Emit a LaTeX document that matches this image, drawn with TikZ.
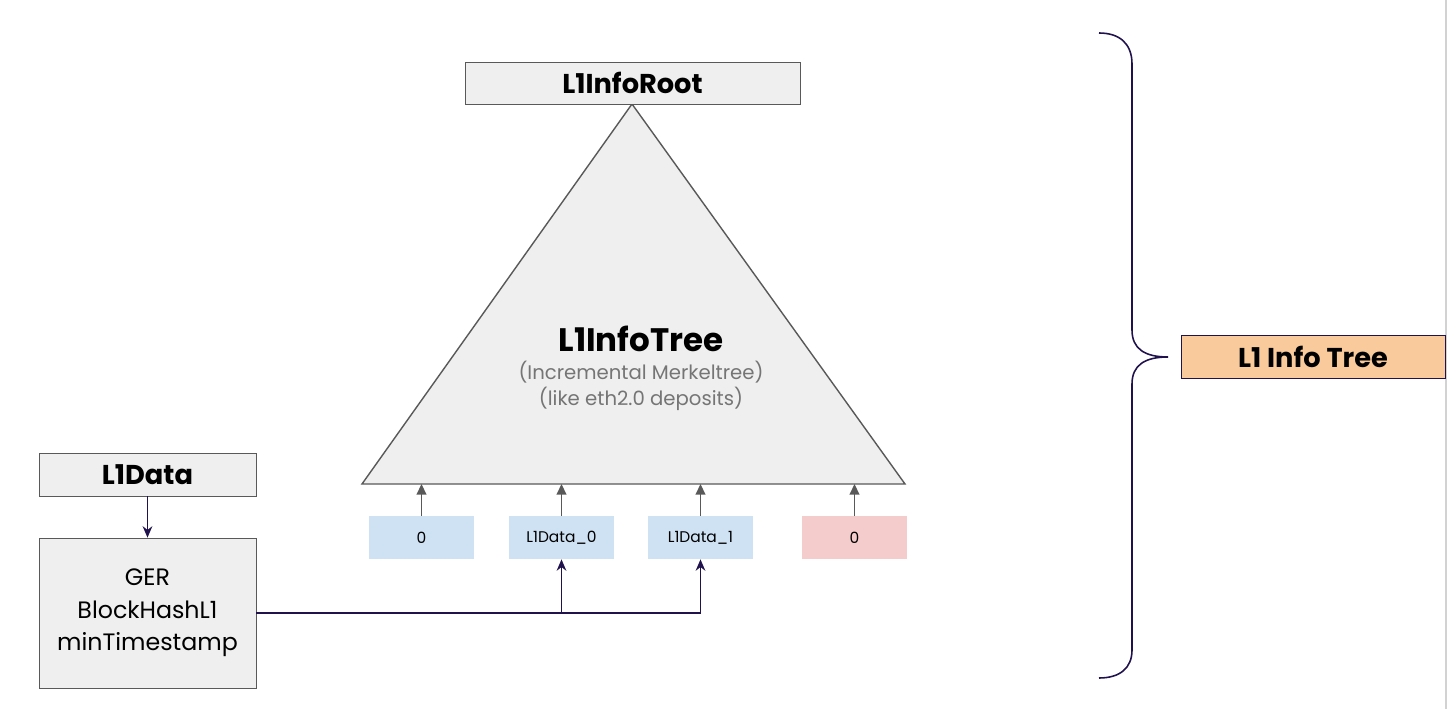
\documentclass[tikz,border=0pt]{standalone}
\usepackage{fontspec}
\setmainfont{Poppins}
\usetikzlibrary{arrows.meta,positioning}

\definecolor{boxgray}{HTML}{EFEFEF}
\definecolor{linegray}{HTML}{595959}
\definecolor{navy}{HTML}{20124D}
\definecolor{leafblue}{HTML}{CFE2F3}
\definecolor{leafred}{HTML}{F4CCCC}
\definecolor{peach}{HTML}{F9CB9C}
\definecolor{subgray}{HTML}{757575}

\begin{document}
\begin{tikzpicture}[x=0.02cm, y=-0.02cm,
        graybox/.style={rectangle, draw=linegray, fill=boxgray, inner sep=0pt, font=\bfseries\fontsize{15.5}{18}\selectfont},
        leaf/.style={rectangle, inner sep=0pt, minimum width=2.1cm, minimum height=0.86cm, font=\fontsize{8.8}{10}\selectfont},
        uparrow/.style={-{Triangle[length=6pt, width=5.5pt]}, draw=linegray, fill=linegray, line width=0.9pt},
        feed/.style={-{Stealth[length=6.5pt, width=5.5pt]}, draw=navy, line width=0.9pt}]
        \useasboundingbox (0, 0) rectangle (1447, 709);
        \draw[gray!35, line width=0.6pt] (1446, 0) -- (1446, 709);

        % the tree
        \filldraw[fill=boxgray, draw=linegray, line width=0.8pt] (632, 104) -- (905, 484) -- (362, 484) -- cycle;
        \coordinate (base) at (632, 484);
        \node[graybox, minimum width=6.7cm, minimum height=0.84cm] (root) at (632.5, 83) {L1InfoRoot};
        \node[font=\bfseries\fontsize{18.5}{22}\selectfont] (tree_title) at (641, 339) {L1InfoTree};
        \node[text=subgray, align=center, font=\fontsize{11.2}{14.7}\selectfont] (tree_sub) at (641, 386) {(Incremental Merkeltree)\\(like eth2.0 deposits)};

        % leaves
        \node[leaf, fill=leafblue] (leaf_a) at (421.5, 537.5) {0};
        \node[leaf, fill=leafblue] (leaf_b) at (561.5, 537.5) {L1Data\_0};
        \node[leaf, fill=leafblue] (leaf_c) at (700.5, 537.5) {L1Data\_1};
        \node[leaf, fill=leafred] (leaf_d) at (854.5, 537.5) {0};
        \foreach \l in {leaf_a, leaf_b, leaf_c, leaf_d}
            \draw[uparrow] (\l.north) -- (\l.north |- base);

        % L1 data
        \node[graybox, minimum width=4.34cm, minimum height=0.86cm] (l1data) at (147.5, 474.5) {L1Data};
        \node[graybox, font=\fontsize{13.5}{18.4}\selectfont, align=center, minimum width=4.34cm, minimum height=3cm] (fields) at (147.5, 613) {GER\\BlockHashL1\\minTimestamp};
        \draw[feed] (l1data) -- (fields);
        \draw[feed] (fields.east) -| (leaf_b.south);
        \draw[feed] (fields.east) -| (leaf_c.south);

        % brace and label
        \draw[navy, line width=0.9pt] (1099, 33) .. controls (1120, 33) and (1132, 44) .. (1132, 64) -- (1132, 330) .. controls (1132, 349) and (1145, 357) .. (1168, 357) .. controls (1145, 357) and (1132, 365) .. (1132, 384) -- (1132, 650) .. controls (1132, 668) and (1120, 678) .. (1099, 678);
        \node[rectangle, draw=navy, fill=peach, inner sep=0pt, minimum width=5.28cm, minimum height=0.86cm, font=\bfseries\fontsize{15.5}{18}\selectfont] (label) at (1313, 356.5) {L1 Info Tree};
\end{tikzpicture}
\end{document}
